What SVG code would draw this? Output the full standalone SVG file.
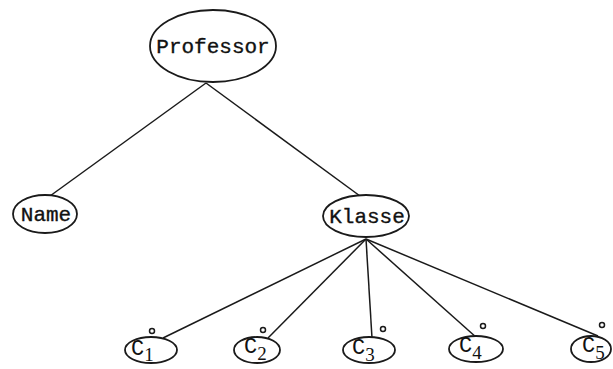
<svg xmlns="http://www.w3.org/2000/svg" width="613" height="369" viewBox="0 0 613 369">
  <style>
    .node { fill: #fff; stroke: #1a1a1a; stroke-width: 1.8; }
    .edge { stroke: #1a1a1a; stroke-width: 1.5; fill: none; }
    .dot { fill: none; stroke: #1a1a1a; stroke-width: 1.5; }
    .lbl { font-family: "Liberation Mono", "Courier New", monospace; fill: #111; stroke: #111; stroke-width: 0.35; }
    .big { font-size: 21px; }
    .c { font-size: 22px; stroke-width: 0; }
    .sub { font-size: 19px; font-family: "Liberation Serif", serif; }
  </style>
  <rect width="613" height="369" fill="#fff"/>

  <g id="connectors">
    <line class="edge" x1="206" y1="83" x2="50" y2="196"/>
    <line class="edge" x1="206" y1="83" x2="360" y2="196"/>
    <line class="edge" x1="366" y1="239" x2="163" y2="338"/>
    <line class="edge" x1="366" y1="239" x2="268" y2="338"/>
    <line class="edge" x1="366" y1="239" x2="372" y2="338"/>
    <line class="edge" x1="366" y1="239" x2="477" y2="338"/>
    <line class="edge" x1="366" y1="239" x2="598" y2="336"/>
  </g>

  <g id="professor">
    <ellipse class="node" cx="213" cy="46" rx="63" ry="36"/>
    <text class="lbl big" x="213" y="53" text-anchor="middle">Professor</text>
  </g>

  <g id="name">
    <ellipse class="node" cx="45" cy="214" rx="32" ry="19"/>
    <text class="lbl big" x="46" y="221" text-anchor="middle" stroke-width="0.6">Name</text>
  </g>

  <g id="klasse">
    <ellipse class="node" cx="366" cy="216" rx="43" ry="21"/>
    <text class="lbl big" x="367" y="223" text-anchor="middle">Klasse</text>
  </g>

  <g id="c1">
    <circle class="dot" cx="152" cy="331" r="2.5"/>
    <ellipse class="node" cx="151" cy="350" rx="26" ry="13"/>
    <text class="lbl c" x="131" y="355">C<tspan class="sub" dy="6">1</tspan></text>
  </g>

  <g id="c2">
    <circle class="dot" cx="263" cy="330" r="2.5"/>
    <ellipse class="node" cx="257" cy="350" rx="23" ry="13"/>
    <text class="lbl c" x="244" y="353">C<tspan class="sub" dy="7">2</tspan></text>
  </g>

  <g id="c3">
    <circle class="dot" cx="383" cy="329" r="2.5"/>
    <ellipse class="node" cx="369" cy="350" rx="26" ry="13"/>
    <text class="lbl c" x="352" y="354">C<tspan class="sub" dy="7">3</tspan></text>
  </g>

  <g id="c4">
    <circle class="dot" cx="483" cy="326" r="2.5"/>
    <ellipse class="node" cx="476" cy="349" rx="27" ry="13"/>
    <text class="lbl c" x="459" y="352">C<tspan class="sub" dy="7">4</tspan></text>
  </g>

  <g id="c5">
    <circle class="dot" cx="602" cy="325" r="2.5"/>
    <ellipse class="node" cx="591" cy="349" rx="20" ry="13"/>
    <text class="lbl c" x="582" y="352">C<tspan class="sub" dy="7">5</tspan></text>
  </g>
</svg>
